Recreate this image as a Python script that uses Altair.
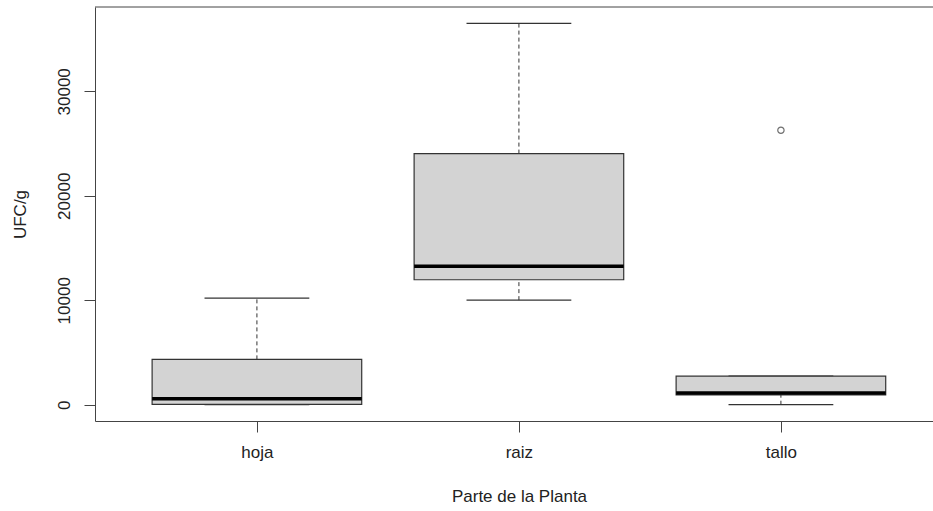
import altair as alt
import pandas as pd

# Box-plot statistics per plant part (UFC/g)
categories = ["hoja", "raiz", "tallo"]
whisker_low = [0, 10010, 0]
q1 = [30, 11960, 940]
median = [560, 13260, 1130]
q3 = [4340, 24040, 2730]
whisker_high = [10200, 36500, 2730]

# Points beyond the whiskers
outlier_part = ["tallo"]
outlier_value = [26270]

box_half = 0.4     # half box width in category units
cap_half = 0.2     # half whisker-cap width

stats = pd.DataFrame({
    "parte": categories,
    "pos": list(range(1, len(categories) + 1)),
    "lo": whisker_low,
    "q1": q1,
    "med": median,
    "q3": q3,
    "hi": whisker_high,
})
outliers = pd.DataFrame({
    "pos": [categories.index(p) + 1 for p in outlier_part],
    "valor": outlier_value,
})

W, H = 838, 414
FONT = "Liberation Sans"
INK = "#333333"

label_expr = "[" + ",".join(f"'{c}'" for c in categories) + "][datum.value - 1]"

xscale = alt.Scale(domain=[0.382, 0.382 + W / 262.0], nice=False, zero=False)
yscale = alt.Scale(domain=[-1560, 38070], nice=False, zero=False)

xaxis = alt.Axis(
    values=[1, 2, 3], labelExpr=label_expr, grid=False, tickSize=11,
    labelPadding=12, labelFontSize=17, labelFont=FONT, labelColor="#222222",
    title="Parte de la Planta", titleFont=FONT, titleFontSize=17,
    titleFontWeight="normal", titleColor="#222222", titleX=424, titleY=80,
    titleBaseline="alphabetic", domainColor="#444444", tickColor="#444444",
)
yaxis = alt.Axis(
    values=[0, 10000, 20000, 30000], format="d", grid=False, tickSize=11,
    labelAngle=270, labelAlign="center", labelBaseline="alphabetic",
    labelPadding=15, labelFontSize=17, labelFont=FONT, labelColor="#222222",
    title="UFC/g", titleFont=FONT, titleFontSize=17, titleFontWeight="normal",
    titleColor="#222222", titleAngle=270, titleX=-70, titleY=H / 2,
    titleAlign="center", titleBaseline="alphabetic",
    domainColor="#444444", tickColor="#444444",
)

base = alt.Chart(stats)

# Dashed whiskers
upper_whisker = base.mark_rule(color=INK, strokeDash=[4, 3], strokeWidth=1).encode(
    x=alt.X("pos:Q", scale=xscale, axis=xaxis),
    y=alt.Y("q3:Q", scale=yscale, axis=yaxis),
    y2="hi:Q",
)
lower_whisker = base.mark_rule(color=INK, strokeDash=[4, 3], strokeWidth=1).encode(
    x="pos:Q", y="lo:Q", y2="q1:Q",
)

# Whisker caps
caps = base.transform_calculate(
    xa=f"datum.pos - {cap_half}", xb=f"datum.pos + {cap_half}"
).transform_fold(["lo", "hi"], as_=["which", "v"]).mark_rule(
    color=INK, strokeWidth=1.2
).encode(x="xa:Q", x2="xb:Q", y="v:Q")

# Boxes
boxes = base.transform_calculate(
    xa=f"datum.pos - {box_half}", xb=f"datum.pos + {box_half}"
).mark_rect(fill="#d3d3d3", stroke=INK, strokeWidth=1.2).encode(
    x="xa:Q", x2="xb:Q", y="q1:Q", y2="q3:Q",
)

# Medians
medians = base.transform_calculate(
    xa=f"datum.pos - {box_half}", xb=f"datum.pos + {box_half}"
).mark_rule(color="black", strokeWidth=3.5).encode(
    x="xa:Q", x2="xb:Q", y="med:Q",
)

# Outliers
points = alt.Chart(outliers).mark_point(
    shape="circle", filled=False, color=INK, size=40, strokeWidth=1.2
).encode(x="pos:Q", y="valor:Q")

# Top border of the plot frame
frame_top = alt.Chart(pd.DataFrame({"k": [0]})).mark_rule(
    color="#444444", strokeWidth=1
).encode(x=alt.value(0), x2=alt.value(W), y=alt.value(0))

chart = alt.layer(
    upper_whisker, lower_whisker, caps, boxes, medians, points, frame_top
).properties(
    width=W, height=H,
    autosize=alt.AutoSizeParams(type="none"),
    padding={"left": 95, "top": 7, "right": 0, "bottom": 90},
    background="white",
).configure_view(stroke=None)

chart.save("out.html", embed_options={"renderer": "svg", "actions": False})
